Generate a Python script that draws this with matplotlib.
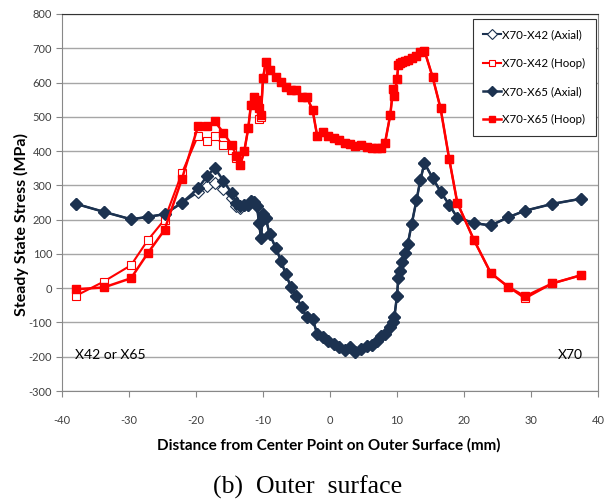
import matplotlib
matplotlib.use("Agg")
import matplotlib.pyplot as plt

# ---- data ----
x_mm = [-37.9, -33.8, -29.7, -27.2, -24.7, -22.1, -19.7, -18.4, -17.2, -15.9,
        -14.7, -14.0, -13.4, -12.8, -12.2, -11.8, -11.4, -10.9, -10.6, -10.3,
        -10.0, -9.6, -9.0, -8.1, -7.3, -6.6, -5.8, -5.1, -4.2, -3.5,
        -2.6, -1.9, -1.1, -0.3, 0.6, 1.4, 2.2, 3.0, 3.8, 4.7,
        5.5, 6.2, 7.0, 7.6, 8.2, 9.0, 9.4, 9.6, 10.0, 10.2,
        10.5, 10.8, 11.2, 11.6, 12.2, 12.9, 13.5, 14.1, 15.3, 16.5,
        17.8, 19.0, 21.5, 24.0, 26.6, 29.1, 33.2, 37.5]

x65_axial = [246, 223, 201, 208, 216, 249, 291, 326, 351, 313,
             278, 250, 240, 244, 244, 254, 252, 240, 191, 147,
             215, 205, 157, 118, 79, 41, 2, -22, -56, -85,
             -90, -134, -143, -153, -163, -171, -180, -172, -185, -177,
             -168, -166, -153, -139, -134, -114, -100, -85, -22, 31,
             50, 75, 104, 128, 188, 256, 317, 365, 322, 282,
             243, 206, 190, 183, 207, 226, 246, 261]

x65_hoop = [-3, 2, 29, 102, 170, 319, 472, 472, 487, 453,
            419, 387, 360, 399, 467, 535, 559, 549, 525, 506,
            612, 659, 637, 617, 603, 588, 578, 578, 559, 559,
            520, 443, 455, 445, 438, 433, 423, 421, 414, 419,
            412, 409, 409, 409, 423, 506, 580, 561, 610, 651,
            656, 660, 663, 667, 671, 676, 690, 693, 617, 525,
            376, 249, 140, 44, 4, -24, 14, 38]

x42_axial = [246, 223, 201, 208, 216, 249, 280, 298, 308, 290,
             262, 240, 235, 244, 244, 254, 252, 240, 191, 147,
             215, 205, 157, 118, 79, 41, 2, -22, -56, -85,
             -90, -134, -143, -153, -163, -171, -180, -172, -185, -177,
             -168, -166, -153, -139, -134, -114, -100, -85, -22, 31,
             50, 75, 104, 128, 188, 256, 317, 365, 322, 282,
             243, 206, 190, 183, 207, 226, 246, 261]

x42_hoop = [-22, 19, 67, 140, 200, 336, 445, 428, 443, 419,
            403, 380, 360, 399, 467, 535, 559, 549, 495, 500,
            612, 659, 637, 617, 603, 588, 578, 578, 559, 559,
            520, 443, 455, 445, 438, 433, 423, 421, 414, 419,
            412, 409, 409, 409, 423, 506, 580, 561, 610, 651,
            656, 660, 663, 667, 671, 676, 690, 693, 617, 525,
            376, 249, 140, 44, 4, -30, 14, 38]

x_ticks = [-40, -30, -20, -10, 0, 10, 20, 30, 40]
y_ticks = [-300, -200, -100, 0, 100, 200, 300, 400, 500, 600, 700, 800]

navy = "#1C3250"
red = "#FF0000"
font = ["Lato", "DejaVu Sans"]
W, H = 613, 503

fig = plt.figure(figsize=(W / 100, H / 100), dpi=100)
ax = fig.add_axes([62 / W, 1 - 391 / H, 536 / W, 377 / H])

ax.plot(x_mm, x42_axial, color=navy, lw=1.5, marker="D", ms=6.5, mfc="white",
        mec=navy, mew=0.8, label="X70-X42 (Axial)", zorder=3)
ax.plot(x_mm, x42_hoop, color=red, lw=1.5, marker="s", ms=6.2, mfc="white",
        mec=red, mew=0.8, label="X70-X42 (Hoop)", zorder=3)
ax.plot(x_mm, x65_axial, color=navy, lw=1.8, marker="D", ms=6.5, mfc=navy,
        mec=navy, label="X70-X65 (Axial)", zorder=4)
ax.plot(x_mm, x65_hoop, color=red, lw=1.8, marker="s", ms=6.2, mfc=red,
        mec=red, label="X70-X65 (Hoop)", zorder=4)

ax.set_xlim(-40, 40)
ax.set_ylim(-300, 800)
ax.set_xticks(x_ticks)
ax.set_yticks(y_ticks)
ax.set_xticklabels([str(v) for v in x_ticks], family=font, fontsize=8, color="#404040")
ax.set_yticklabels([str(v) for v in y_ticks], family=font, fontsize=8, color="#404040")
ax.tick_params(axis="both", direction="out", length=4, color="#888888", width=0.8)
ax.tick_params(axis="x", pad=13)
ax.tick_params(axis="y", pad=3)
ax.yaxis.grid(True, color="#A6A6A6", lw=1.0)
ax.set_axisbelow(True)
for side in ["left", "bottom", "right"]:
    ax.spines[side].set_color("#888888")
ax.spines["top"].set_color("#333333")

fig.text(329 / W, 1 - 445 / H, "Distance from Center Point on Outer Surface (mm)",
         family=font, fontweight="bold", fontsize=11, ha="center", va="center")
fig.text(21 / W, 1 - 225 / H, "Steady State Stress (MPa)", family=font,
         fontweight="bold", fontsize=11.5, ha="center", va="center", rotation=90)

ax.text(-38.1, -195, "X42 or X65", family=font, fontsize=10, ha="left", va="center")
ax.text(37.8, -195, "X70", family=font, fontsize=10, ha="right", va="center")

leg = ax.legend(loc="upper right", bbox_to_anchor=((596 - 62) / 536, (391 - 19) / 377),
                prop={"family": font, "size": 8.3},
                frameon=True, fancybox=False, edgecolor="#333333", framealpha=1,
                handlelength=1.5, labelspacing=1.5, borderpad=0.9, handletextpad=0.15,
                markerscale=0.75, borderaxespad=0)
leg.get_frame().set_linewidth(0.8)

fig.text(307.5 / W, 1 - 487 / H, "(b)  Outer  surface",
         family=["Liberation Serif", "DejaVu Serif"],
         fontsize=18.5, ha="center", va="center")

fig.savefig("out.png", dpi=100)
